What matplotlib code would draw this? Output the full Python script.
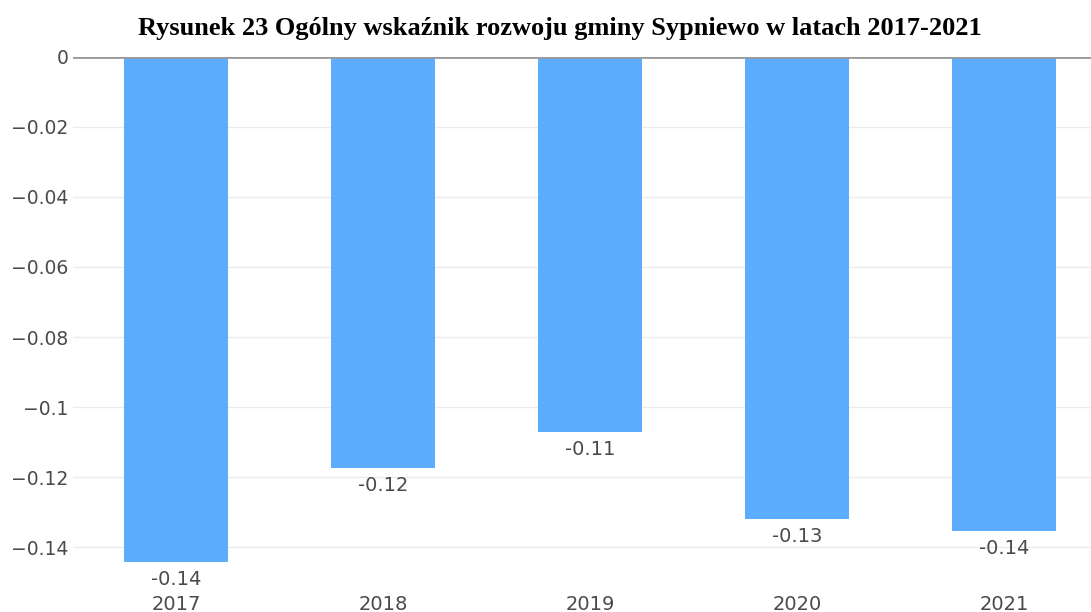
import matplotlib
matplotlib.use("Agg")
import matplotlib.pyplot as plt
from matplotlib.ticker import FixedLocator

years = ["2017", "2018", "2019", "2020", "2021"]
values = [-0.1443, -0.1174, -0.1071, -0.1320, -0.1354]
y_ticks = [0, -0.02, -0.04, -0.06, -0.08, -0.1, -0.12, -0.14]
y_tick_labels = ["0", "\u22120.02", "\u22120.04", "\u22120.06", "\u22120.08",
                 "\u22120.1", "\u22120.12", "\u22120.14"]
title = "Rysunek 23 Ogólny wskaźnik rozwoju gminy Sypniewo w latach 2017-2021"

W, H = 1091, 612
fig = plt.figure(figsize=(W / 100, H / 100), dpi=100)
fig.patch.set_facecolor("white")

left, right, top, bottom = 72.5, 1107.5, 57, 589
ax = fig.add_axes([left / W, 1 - bottom / H, (right - left) / W, (bottom - top) / H])
ax.set_facecolor("white")

x = list(range(len(years)))
bars = ax.bar(x, values, width=0.5, color="#5cadfd", zorder=3)

ax.set_xlim(-0.5, len(years) - 0.5)
ax.set_ylim(-0.152, 0)

ax.yaxis.set_major_locator(FixedLocator(y_ticks))
ax.set_yticklabels(y_tick_labels)
ax.set_xticks(x)
ax.set_xticklabels(years)

for s in ax.spines.values():
    s.set_visible(False)

ax.grid(axis="y", color="#ebebeb", linewidth=1.0, zorder=0)
ax.axhline(0, color="#9a9a9a", linewidth=2.0, zorder=4)

ax.tick_params(axis="y", length=0, labelsize=13.5, labelcolor="#4a4a4a", pad=3)
ax.tick_params(axis="x", length=0, labelsize=14, labelcolor="#4a4a4a", pad=4)

for rect, v in zip(bars, values):
    ax.annotate(f"{v:.2f}", xy=(rect.get_x() + rect.get_width() / 2, v),
                xytext=(0, -6), textcoords="offset points",
                ha="center", va="top", fontsize=14, color="#4a4a4a")

fig.text(560 / W, 1 - 28 / H, title, ha="center", va="center",
         fontsize=19, fontweight="bold", family="Liberation Serif", color="black")

fig.savefig("out.png", dpi=100)
